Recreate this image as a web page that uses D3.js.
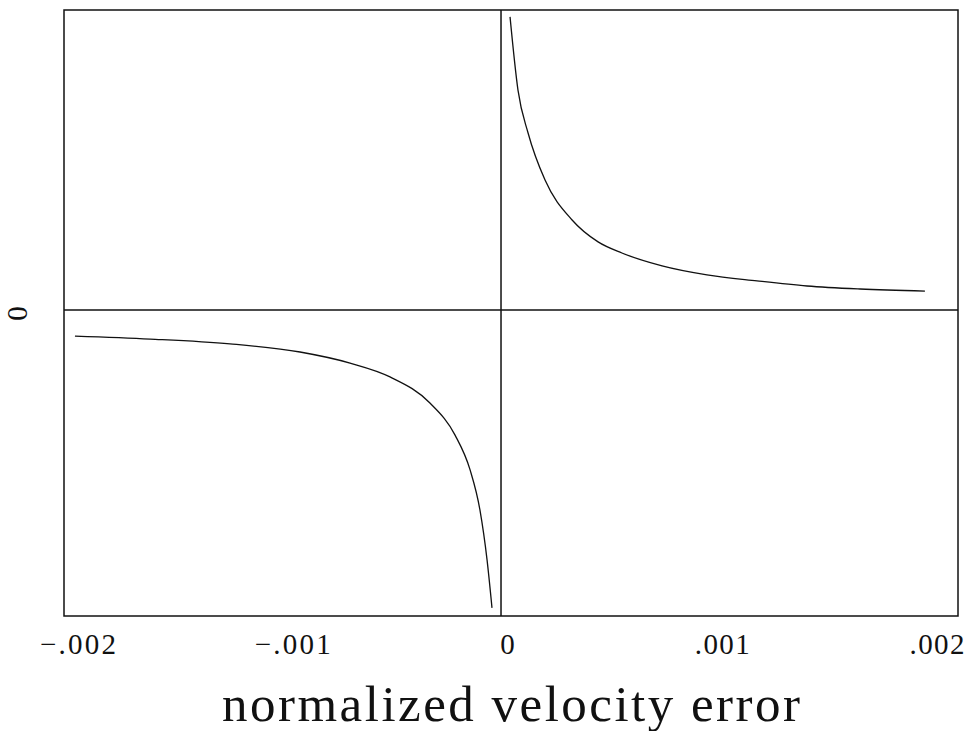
<!DOCTYPE html>
<html>
<head>
<meta charset="utf-8">
<script src="https://cdn.jsdelivr.net/npm/d3@7"></script>
<style>
    body { margin: 0; background: #fff; }
    svg { display: block; }
    text { font-family: "Liberation Serif", serif; fill: #111; }
</style>
</head>
<body>
<svg id="chart"></svg>
<script>

// Variables
var width = 970;
var height = 731;

// Data (x in normalized velocity error, y in arbitrary units, 0 = axis)
var upperX = [0.000042, 0.000079, 0.000126, 0.000205, 0.000331, 0.000452, 0.000563, 0.00075, 0.000959, 0.001192, 0.001425, 0.001672, 0.001974];
var upperY = [0.977, 0.733, 0.59, 0.433, 0.30, 0.227, 0.19, 0.147, 0.117, 0.097, 0.08, 0.07, 0.063];
var lowerX = [-0.001984, -0.001634, -0.001262, -0.000936, -0.000703, -0.000517, -0.000331, -0.000214, -0.000144, -0.000098, -0.000065, -0.000042];
var lowerY = [-0.087, -0.097, -0.113, -0.14, -0.177, -0.223, -0.31, -0.417, -0.533, -0.667, -0.833, -0.993];
var xTicks = [-0.002, -0.001, 0, 0.001, 0.002];
var yTicks = [0];
var xDomain = [-0.002035, 0.002128];
var yDomain = [-1.02, 1];
var xTitle = "normalized velocity error";

// Scales: the frame is the full range of both
var x = d3.scaleLinear().domain(xDomain).range([64, 958]);
var y = d3.scaleLinear().domain(yDomain).range([616, 10]);

var svg = d3.select("#chart")
    .attr("width", width)
    .attr("height", height);

// Label format like ".001" / "−.002"
function fmt(d) {
    if (d === 0) return "0";
    return (d < 0 ? "\u2212" : "") + Math.abs(d).toFixed(3).replace(/^0/, "");
}

// Frame
svg.append("rect")
    .attr("x", x.range()[0])
    .attr("y", y.range()[1])
    .attr("width", x.range()[1] - x.range()[0])
    .attr("height", y.range()[0] - y.range()[1])
    .style("fill", "none")
    .style("stroke", "#111")
    .style("stroke-width", 1.5);

// Zero lines
svg.append("line")
    .attr("x1", x(0)).attr("x2", x(0))
    .attr("y1", y.range()[1]).attr("y2", y.range()[0])
    .style("stroke", "#111").style("stroke-width", 1.5);
svg.append("line")
    .attr("x1", x.range()[0]).attr("x2", x.range()[1])
    .attr("y1", y(0)).attr("y2", y(0))
    .style("stroke", "#111").style("stroke-width", 1.5);

// Curves, one per branch
var line = d3.line()
    .curve(d3.curveMonotoneX)
    .x(function (d) { return x(d[0]); })
    .y(function (d) { return y(d[1]); });

[d3.zip(upperX, upperY), d3.zip(lowerX, lowerY)].forEach(function (pts) {
    svg.append("path")
        .attr("d", line(pts))
        .style("fill", "none")
        .style("stroke", "#111")
        .style("stroke-width", 1.3);
});

// X axis: labels only
var xAxis = svg.append("g")
    .attr("transform", "translate(0," + y.range()[0] + ")")
    .call(d3.axisBottom(x).tickValues(xTicks).tickSize(0).tickFormat(fmt));
xAxis.select(".domain").remove();
xAxis.selectAll("text")
    .attr("y", 38)
    .attr("dy", 0)
    .attr("dx", 6)
    .style("font-family", "Liberation Serif, serif")
    .style("font-size", "29px")
    .style("fill", "#111")
    .attr("textLength", function (d) { return d < 0 ? 76 : (d === 0 ? 14 : 55); })
    .attr("lengthAdjust", "spacing");

// Y axis: only the zero label, rotated
var yAxis = svg.append("g")
    .attr("transform", "translate(" + x.range()[0] + ",0)")
    .call(d3.axisLeft(y).tickValues(yTicks).tickSize(0).tickFormat(fmt));
yAxis.select(".domain").remove();
yAxis.selectAll("text")
    .attr("x", 0).attr("dy", 0)
    .attr("text-anchor", "middle")
    .attr("transform", "translate(-46,3) rotate(-90) translate(0,9)")
    .style("font-family", "Liberation Serif, serif")
    .style("font-size", "29px")
    .style("fill", "#111");

// Axis title
svg.append("text")
    .attr("x", 511)
    .attr("y", 721)
    .attr("text-anchor", "middle")
    .attr("textLength", 578)
    .attr("lengthAdjust", "spacing")
    .style("font-size", "51px")
    .text(xTitle);

</script>
</body>
</html>
